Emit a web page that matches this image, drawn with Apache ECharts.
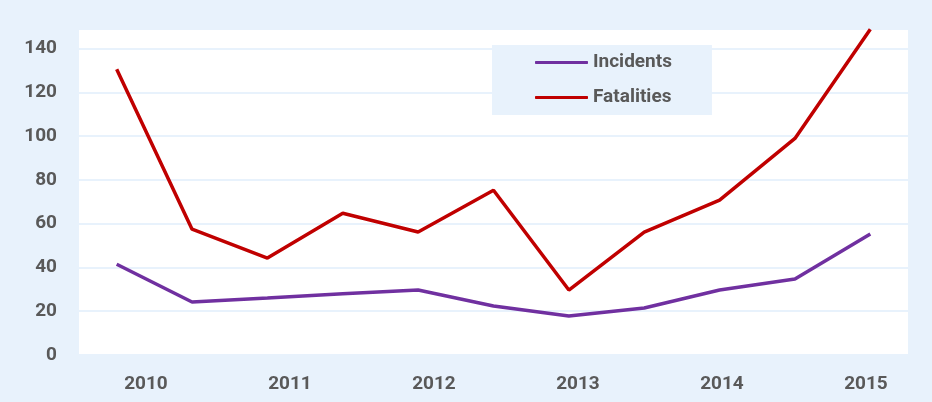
<!DOCTYPE html>
<html>
<head>
    <meta charset="UTF-8"/>
    <title>Incidents and fatalities</title>
    <script type="text/javascript" src="https://cdn.jsdelivr.net/npm/echarts@6.0.0/dist/echarts.min.js"></script>
    <style>
        html, body { margin: 0; padding: 0; background: #e8f2fc; }
        #chart { width: 932px; height: 402px; }
    </style>
</head>
<body>
<div id="chart"></div>
<script type="text/javascript">

    // half-year periods
    var periods = ['2009 H2', '2010 H1', '2010 H2', '2011 H1', '2011 H2', '2012 H1',
                   '2012 H2', '2013 H1', '2013 H2', '2014 H1', '2014 H2'];
    var incidents = [41.5, 24.2, 26, 28, 29.7, 22.4, 17.8, 21.5, 29.7, 34.7, 55.3];
    var fatalities = [130.6, 57.5, 44.3, 64.8, 56.2, 75.3, 29.7, 56.2, 70.8, 99, 148.9];
    var yearLabels = [2010, 2011, 2012, 2013, 2014, 2015];

    var labelFont = 'Roboto, sans-serif';
    var grey = '#595959';
    var paleBlue = '#e8f2fc';

    const chart = echarts.init(document.getElementById('chart'));

    chart.setOption({
        backgroundColor: paleBlue,
        animation: false,
        grid: {
            left: 79, right: 24, top: 29, bottom: 47,
            show: true,
            backgroundColor: '#ffffff',
            borderWidth: 0
        },
        legend: {
            data: ['Incidents', 'Fatalities'],
            orient: 'vertical',
            left: 492,
            top: 45,
            backgroundColor: paleBlue,
            padding: [8, 40, 8, 43],
            itemGap: 16,
            itemWidth: 53,
            itemHeight: 3,
            icon: 'roundRect',
            textStyle: { fontFamily: labelFont, fontWeight: 'bold', fontSize: 19, color: grey }
        },
        xAxis: [
            {
                type: 'category',
                data: periods,
                boundaryGap: true,
                axisLine: { show: false },
                axisTick: { show: false },
                axisLabel: { show: false },
                splitLine: { show: false }
            },
            {
                // year labels sit on their own scale, as in the picture
                type: 'value',
                position: 'bottom',
                min: 2009.535,
                max: 2015.292,
                axisLine: { show: false },
                axisTick: { show: false },
                splitLine: { show: false },
                axisLabel: {
                    customValues: yearLabels,
                    formatter: function (v) { return String(v); },
                    margin: 20,
                    fontFamily: labelFont, fontWeight: 'bold', fontSize: 19, color: grey
                }
            }
        ],
        yAxis: {
            type: 'value',
            min: 0,
            max: 149,
            interval: 20,
            axisLine: { show: false },
            axisTick: { show: false },
            splitLine: { show: true, lineStyle: { color: paleBlue, width: 2 } },
            axisLabel: {
                showMaxLabel: false,
                margin: 22,
                fontFamily: labelFont, fontWeight: 'bold', fontSize: 19, color: grey
            }
        },
        series: [
            {
                name: 'Incidents',
                type: 'line',
                xAxisIndex: 0,
                data: incidents,
                showSymbol: false,
                symbol: 'none',
                itemStyle: { color: '#7030a0' },
                lineStyle: { color: '#7030a0', width: 3.5 }
            },
            {
                name: 'Fatalities',
                type: 'line',
                xAxisIndex: 0,
                data: fatalities,
                showSymbol: false,
                symbol: 'none',
                itemStyle: { color: '#c00000' },
                lineStyle: { color: '#c00000', width: 3.5 }
            }
        ]
    });
</script>
</body>
</html>
